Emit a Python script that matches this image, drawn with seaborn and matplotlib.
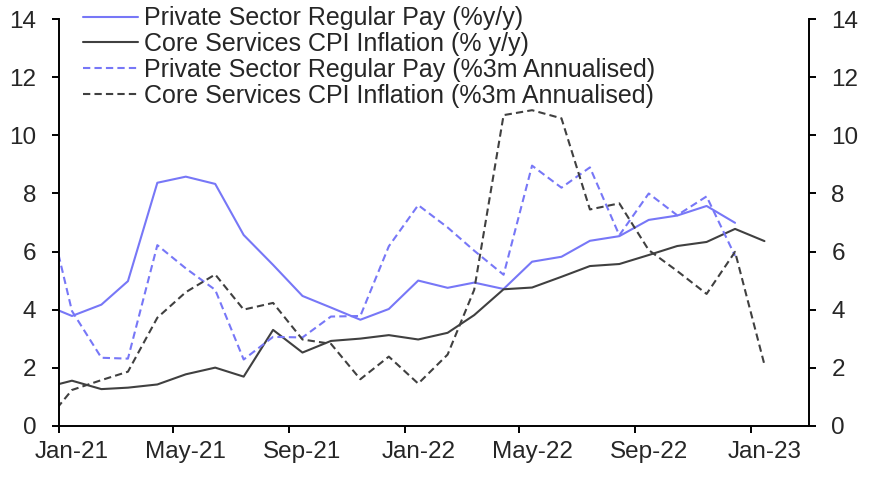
import pandas as pd
import numpy as np
import matplotlib
matplotlib.use('Agg')
import matplotlib.pyplot as plt
import matplotlib.dates as mdates
import seaborn as sns

# monthly points, Dec-20 .. Jan-23 (plotted mid-month)
months = pd.date_range('2020-12-01', '2023-01-01', freq='MS') + pd.Timedelta(days=14)

pay_yy = [4.20, 3.78, 4.17, 4.98, 8.37, 8.58, 8.33, 6.57, 5.54, 4.47, 4.07, 3.65, 4.02,
          5.00, 4.75, 4.93, 4.71, 5.65, 5.82, 6.37, 6.53, 7.09, 7.24, 7.57, 6.99, np.nan]
cpi_yy = [1.29, 1.55, 1.26, 1.31, 1.42, 1.77, 2.00, 1.69, 3.30, 2.52, 2.92, 3.00, 3.12,
          2.97, 3.20, 3.81, 4.70, 4.76, 5.13, 5.50, 5.57, 5.88, 6.19, 6.33, 6.78, 6.36]
pay_3m = [8.20, 3.95, 2.34, 2.31, 6.22, 5.42, 4.68, 2.28, 3.06, 3.04, 3.76, 3.78, 6.18,
          7.60, 6.83, 6.03, 5.20, 8.96, 8.20, 8.90, 6.56, 8.00, 7.25, 7.90, 5.85, np.nan]
cpi_3m = [0.00, 1.23, 1.57, 1.86, 3.72, 4.60, 5.21, 4.00, 4.23, 2.97, 2.82, 1.60, 2.38,
          1.45, 2.45, 4.68, 10.70, 10.87, 10.59, 7.45, 7.66, 6.05, 5.33, 4.54, 5.99, 2.10]

labels = ['Private Sector Regular Pay (%y/y)',
          'Core Services CPI Inflation (% y/y)',
          'Private Sector Regular Pay (%3m Annualised)',
          'Core Services CPI Inflation (%3m Annualised)']

blue = '#7777f7'
dark = '#404040'

sns.set_style('ticks')
plt.rcParams['font.family'] = ['Liberation Sans', 'DejaVu Sans']
plt.rcParams['font.size'] = 17.5

fig = plt.figure(figsize=(8.72, 4.84), dpi=100)
ax = fig.add_axes([0.0673, 0.1205, 0.8605, 0.8395])

dash = (0, (3.5, 2))
series = [(pay_yy, blue, '-'), (cpi_yy, dark, '-'), (pay_3m, blue, dash), (cpi_3m, dark, dash)]
for (vals, col, ls), lab in zip(series, labels):
    df = pd.DataFrame({'date': months, 'value': vals})
    sns.lineplot(data=df, x='date', y='value', ax=ax, color=col, linewidth=1.5,
                 linestyle=ls, label=lab, errorbar=None)

ax.set_xlim(pd.Timestamp('2021-01-01'), pd.Timestamp('2023-03-03'))
ax.set_ylim(0, 14)
ax.set_yticks(range(0, 15, 2))
ax.set_xlabel('')
ax.set_ylabel('')

ax.xaxis.set_major_locator(mdates.MonthLocator(bymonth=[1, 5, 9], bymonthday=1))
ax.xaxis.set_major_formatter(plt.NullFormatter())
ax.xaxis.set_minor_locator(mdates.MonthLocator(bymonth=[1, 5, 9], bymonthday=15))
ax.xaxis.set_minor_formatter(mdates.DateFormatter('%b-%y'))
ax.tick_params(axis='x', which='major', direction='out', length=5, width=1.4, color='black')
ax.tick_params(axis='x', which='minor', length=0, pad=11, labelsize=17.5)
ax.tick_params(axis='y', direction='out', length=5, width=1.4, pad=11, labelsize=17.5, color='black')

ax2 = ax.twinx()
ax2.set_ylim(0, 14)
ax2.set_yticks(range(0, 15, 2))
ax2.tick_params(axis='y', direction='out', length=5, width=1.4, pad=11, labelsize=17.5, color='black')

for a in (ax, ax2):
    for s in a.spines.values():
        s.set_linewidth(1.4)
        s.set_color('black')
    a.spines['top'].set_visible(False)
ax.spines['right'].set_visible(False)
ax2.spines['left'].set_visible(False)
ax2.spines['bottom'].set_visible(False)

handles, labs = ax.get_legend_handles_labels()
ax.legend(handles, labs, loc='upper left', bbox_to_anchor=(0.0328, 1.032), frameon=False,
          fontsize=18, handlelength=2.2, handletextpad=0.22, labelspacing=0.075,
          borderpad=0, borderaxespad=0)

fig.savefig('out.png', dpi=100)
